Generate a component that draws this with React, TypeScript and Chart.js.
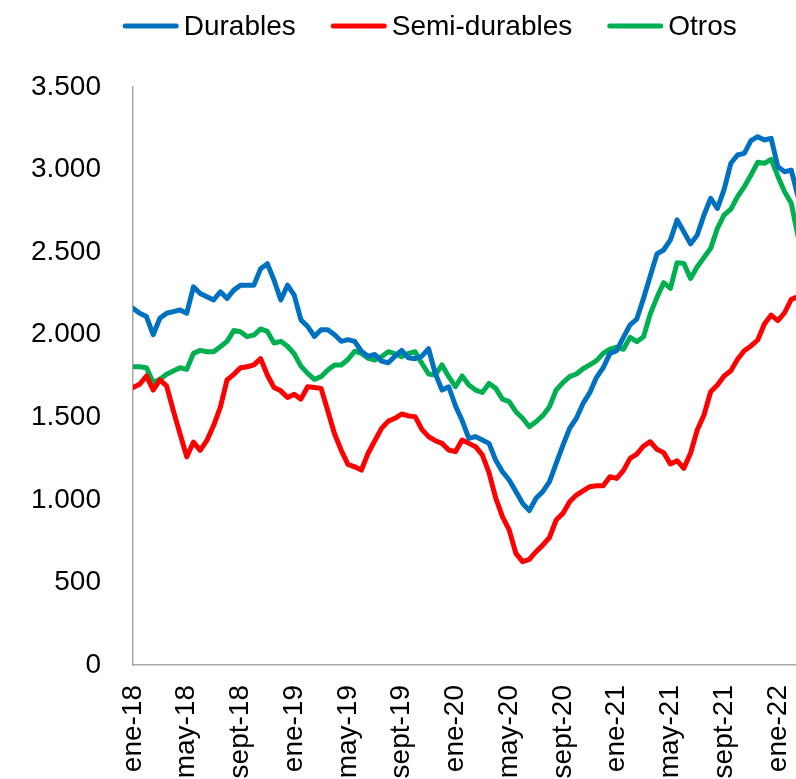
import React, { useEffect, useRef } from "react";
import { Chart, registerables } from "chart.js";

Chart.register(...registerables);

// ---- Data ----
const seriesLabels = ["Durables", "Semi-durables", "Otros"];
const seriesColors = ["#0070C0", "#FF0000", "#00B050"];

// x-axis tick positions (months since ene-18) and their labels
const tickMonths = [0, 4, 8, 12, 16, 20, 24, 28, 32, 36, 40, 44, 48];
const tickLabels = [
  "ene-18", "may-18", "sept-18", "ene-19", "may-19", "sept-19",
  "ene-20", "may-20", "sept-20", "ene-21", "may-21", "sept-21", "ene-22",
];
const yTicks = [0, 500, 1000, 1500, 2000, 2500, 3000, 3500];

// semi-monthly observations starting ene-18
const stepMonths = 0.5;

const durables = [
  2160, 2130, 2110, 2000, 2100, 2130, 2140, 2150, 2130, 2290,
  2250, 2230, 2210, 2260, 2220, 2270, 2300, 2300, 2300, 2400,
  2430, 2330, 2210, 2300, 2240, 2090, 2050, 1990, 2030, 2030,
  2000, 1960, 1970, 1960, 1900, 1870, 1880, 1840, 1830, 1870,
  1905, 1860, 1855, 1870, 1915, 1765, 1665, 1685, 1570, 1480,
  1372, 1383, 1362, 1342, 1240, 1171, 1120, 1050, 979, 935,
  1010, 1050, 1110, 1221, 1330, 1433, 1494, 1584, 1649, 1742,
  1800, 1887, 1903, 1984, 2060, 2095, 2220, 2355, 2489, 2513,
  2574, 2695, 2624, 2550, 2604, 2725, 2826, 2765, 2880, 3038,
  3088, 3098, 3175, 3199, 3179, 3189, 3017, 2987, 2997, 2836,
];

const semiDurables = [
  1680, 1700, 1750, 1665, 1726, 1690, 1540, 1400, 1260, 1350,
  1300, 1360, 1450, 1560, 1726, 1760, 1800, 1806, 1817, 1855,
  1756, 1680, 1660, 1620, 1640, 1610, 1685, 1680, 1675, 1540,
  1400, 1300, 1215, 1200, 1180, 1282, 1358, 1433, 1477, 1494,
  1520, 1508, 1504, 1427, 1383, 1358, 1342, 1302, 1292, 1362,
  1342, 1322, 1272, 1165, 1010, 898, 818, 676, 626, 640,
  686, 726, 772, 878, 918, 989, 1029, 1055, 1080, 1085,
  1085, 1140, 1130, 1177, 1251, 1277, 1326, 1352, 1306, 1286,
  1217, 1237, 1191, 1282, 1423, 1514, 1655, 1695, 1750, 1782,
  1851, 1903, 1932, 1968, 2065, 2119, 2085, 2133, 2214, 2230,
];

const otros = [
  1806, 1806, 1800, 1710, 1730, 1760, 1780, 1800, 1790, 1887,
  1905, 1897, 1897, 1927, 1960, 2025, 2018, 1988, 1998, 2035,
  2020, 1950, 1960, 1930, 1885, 1810, 1766, 1730, 1746, 1786,
  1817, 1817, 1850, 1900, 1887, 1857, 1847, 1867, 1897, 1885,
  1867, 1887, 1897, 1827, 1762, 1756, 1817, 1746, 1685, 1750,
  1695, 1665, 1650, 1705, 1675, 1610, 1595, 1534, 1494, 1443,
  1473, 1510, 1564, 1665, 1710, 1746, 1762, 1794, 1817, 1843,
  1887, 1912, 1924, 1912, 1984, 1958, 1988, 2125, 2226, 2315,
  2281, 2436, 2432, 2341, 2412, 2468, 2523, 2644, 2725, 2760,
  2836, 2896, 2967, 3044, 3038, 3062, 2960, 2866, 2796, 2594,
];

const seriesValues = [durables, semiDurables, otros];

const FONT = '"Liberation Sans", Arial, sans-serif';

function formatThousands(v: number): string {
  return String(Math.round(v)).replace(/\B(?=(\d{3})+(?!\d))/g, ".");
}

const lineLegend = {
  id: "lineLegend",
  afterDraw(chart: any) {
    const ctx = chart.ctx as CanvasRenderingContext2D;
    ctx.save();
    ctx.font = `28px ${FONT}`;
    ctx.textAlign = "left";
    ctx.textBaseline = "alphabetic";
    let x = 122.7;
    const lineY = 26;
    chart.data.datasets.forEach((ds: any) => {
      ctx.strokeStyle = ds.borderColor;
      ctx.lineWidth = 5;
      ctx.lineCap = "round";
      ctx.beginPath();
      ctx.moveTo(x + 2.5, lineY);
      ctx.lineTo(x + 56 - 2.5, lineY);
      ctx.stroke();
      x += 61;
      ctx.fillStyle = "#000";
      ctx.fillText(ds.label, x, 35);
      x += ctx.measureText(ds.label).width + 35;
    });
    ctx.restore();
  },
};

export default function App() {
  const canvasRef = useRef<HTMLCanvasElement | null>(null);

  useEffect(() => {
    if (!canvasRef.current) return;
    const datasets = seriesValues.map((vals, s) => ({
      label: seriesLabels[s],
      data: vals.map((v, i) => ({ x: i * stepMonths, y: v })),
      borderColor: seriesColors[s],
      backgroundColor: seriesColors[s],
      borderWidth: 5,
      pointRadius: 0,
      tension: 0,
      borderJoinStyle: "round" as const,
      borderCapStyle: "round" as const,
    }));

    const chart = new Chart(canvasRef.current, {
      type: "line",
      data: { datasets },
      options: {
        animation: false,
        responsive: false,
        layout: { padding: { top: 87, left: 0, right: 0, bottom: 0 } },
        plugins: {
          legend: { display: false },
          tooltip: { enabled: false },
        },
        scales: {
          x: {
            type: "linear",
            min: 0,
            max: 49.35,
            grid: { display: false, drawTicks: false },
            border: { display: true, color: "#A6A6A6", width: 1.5 },
            afterBuildTicks: (axis: any) => {
              axis.ticks = tickMonths.map((v) => ({ value: v }));
            },
            afterFit: (axis: any) => {
              axis.height = 114;
              axis.paddingLeft = 0;
              axis.paddingRight = 0;
            },
            ticks: {
              autoSkip: false,
              minRotation: 90,
              maxRotation: 90,
              padding: 20,
              color: "#000",
              font: { family: FONT, size: 28 },
              callback: (value: any) => {
                const k = tickMonths.indexOf(Number(value));
                return k >= 0 ? tickLabels[k] : "";
              },
            },
          },
          y: {
            min: 0,
            max: 3500,
            grid: { display: false, drawTicks: false },
            border: { display: true, color: "#A6A6A6", width: 1.5 },
            afterBuildTicks: (axis: any) => {
              axis.ticks = yTicks.map((v) => ({ value: v }));
            },
            afterFit: (axis: any) => {
              axis.width = 133;
              axis.paddingTop = 0;
              axis.paddingBottom = 0;
            },
            ticks: {
              padding: 32,
              color: "#000",
              font: { family: FONT, size: 28 },
              callback: (value: any) => formatThousands(Number(value)),
            },
          },
        },
      },
      plugins: [lineLegend],
    });
    return () => chart.destroy();
  }, []);

  return (
    <div
      style={{
        position: "absolute",
        left: 0,
        top: 0,
        width: 796,
        height: 779,
        background: "#fff",
        overflow: "hidden",
      }}
    >
      <canvas ref={canvasRef} width={796} height={779} style={{ display: "block" }} />
    </div>
  );
}
